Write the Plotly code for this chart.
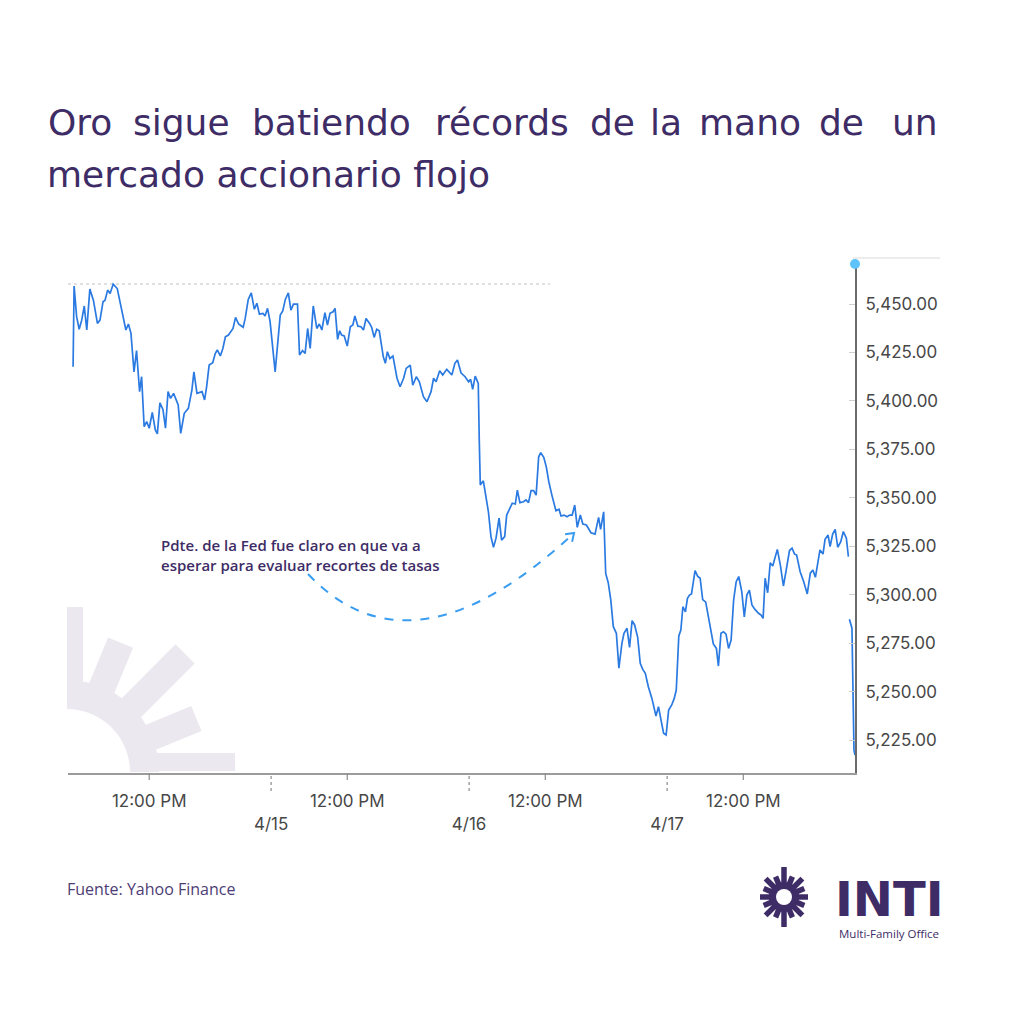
import math
import plotly.graph_objects as go

# ---------------- DATA ----------------
# x = trading minutes since the 4/14 open (9:30), 390 trading minutes per day
minutes = [
    0, 2, 7, 12, 17, 22, 27, 33, 40, 48,
    53, 59, 63, 68, 73, 79, 87, 93, 99, 104,
    109, 114, 120, 125, 131, 135, 140, 145, 150, 156,
    162, 166, 171, 177, 182, 187, 192, 198, 207, 212,
    219, 227, 234, 238, 244, 254, 259, 263, 268, 275,
    280, 284, 290, 295, 300, 306, 315, 320, 326, 335,
    339, 345, 351, 357, 362, 367, 374, 378, 383, 388,
    398, 408, 413, 418, 424, 429, 434, 442, 446, 452,
    457, 462, 467, 473, 480, 485, 490, 496, 501, 506,
    512, 516, 521, 525, 529, 534, 540, 546, 551, 555,
    561, 567, 572, 577, 584, 588, 593, 598, 603, 611,
    615, 619, 624, 630, 638, 644, 651, 656, 664, 669,
    676, 682, 690, 697, 705, 710, 715, 722, 728, 736,
    746, 752, 757, 764, 772, 779, 783, 787, 792, 798,
    800, 802, 808, 813, 818, 823, 828, 833, 839, 844,
    850, 854, 859, 865, 871, 875, 880, 887, 892, 897,
    902, 907, 912, 917, 921, 927, 932, 937, 943, 947,
    951, 957, 961, 967, 973, 978, 983, 988, 993, 999,
    1004, 1011, 1015, 1020, 1028, 1035, 1039, 1045, 1049, 1054,
    1059, 1064, 1070, 1075, 1081, 1085, 1091, 1096, 1101, 1106,
    1112, 1117, 1122, 1127, 1133, 1140, 1148, 1153, 1158, 1163,
    1168, 1173, 1179, 1184, 1188, 1193, 1197, 1201, 1206, 1210,
    1214, 1218, 1225, 1230, 1235, 1240, 1246, 1251, 1256, 1261,
    1267, 1271, 1276, 1281, 1286, 1291, 1296, 1301, 1306, 1311,
    1317, 1322, 1327, 1332, 1337, 1343, 1350, 1355, 1359, 1363,
    1368, 1373, 1378, 1383, 1387, 1393, 1399, 1404, 1411, 1416,
    1421, 1425, 1432, 1439, 1446, 1452, 1457, 1462, 1466, 1471,
    1477, 1481, 1487, 1491, 1496, 1501, 1506, 1512, 1517, 1523,
    1527, 1528, 1529, 1534, 1538, 1540,
]

prices = [
    5417.6, 5459.3, 5443.5, 5437.0, 5441.7, 5449.0, 5436.6, 5457.7, 5452.0, 5440.0,
    5441.7, 5451.2, 5452.0, 5457.2, 5455.5, 5460.3, 5458.0, 5450.3, 5443.5, 5436.6,
    5439.7, 5434.9, 5415.0, 5426.0, 5404.8, 5412.5, 5386.7, 5389.3, 5385.9, 5394.1,
    5385.0, 5383.0, 5399.0, 5395.6, 5385.9, 5404.8, 5401.3, 5403.9, 5397.9, 5383.3,
    5393.6, 5396.2, 5405.6, 5415.0, 5403.9, 5404.8, 5400.5, 5407.3, 5418.5, 5419.7,
    5424.5, 5426.3, 5423.2, 5427.1, 5433.1, 5434.0, 5437.4, 5443.1, 5439.7, 5438.0,
    5442.6, 5452.4, 5455.8, 5447.3, 5450.4, 5444.8, 5445.2, 5443.8, 5447.8, 5440.9,
    5415.0, 5444.3, 5446.5, 5452.4, 5455.8, 5446.9, 5450.0, 5450.0, 5423.7, 5426.0,
    5424.5, 5437.4, 5427.1, 5449.0, 5437.4, 5439.7, 5436.6, 5445.5, 5439.2, 5445.2,
    5446.0, 5447.8, 5431.8, 5436.2, 5434.0, 5433.5, 5428.3, 5438.3, 5439.2, 5443.8,
    5438.6, 5438.3, 5436.6, 5442.6, 5440.0, 5438.0, 5432.8, 5437.0, 5436.2, 5422.8,
    5419.4, 5425.4, 5421.9, 5423.2, 5411.7, 5407.3, 5411.7, 5416.8, 5418.5, 5408.2,
    5412.5, 5409.9, 5402.2, 5399.6, 5404.8, 5411.7, 5409.9, 5415.6, 5413.4, 5416.3,
    5413.4, 5419.4, 5421.1, 5414.5, 5412.5, 5409.9, 5411.1, 5406.0, 5412.8, 5409.0,
    5379.8, 5356.6, 5358.8, 5351.4, 5342.8, 5330.0, 5324.5, 5329.2, 5339.5, 5328.2,
    5330.0, 5341.1, 5344.1, 5347.2, 5346.8, 5354.0, 5347.5, 5348.0, 5348.9, 5347.5,
    5353.7, 5353.7, 5351.4, 5371.2, 5373.3, 5370.9, 5366.0, 5358.3, 5351.4, 5347.2,
    5343.3, 5344.1, 5340.6, 5341.1, 5340.2, 5341.1, 5341.1, 5346.3, 5334.8, 5341.1,
    5336.5, 5336.0, 5334.2, 5332.0, 5331.3, 5339.9, 5333.7, 5342.8, 5311.0, 5306.2,
    5297.3, 5283.5, 5280.1, 5262.1, 5275.0, 5280.1, 5282.7, 5272.8, 5286.6, 5284.4,
    5278.0, 5264.6, 5261.5, 5259.4, 5252.5, 5246.5, 5237.4, 5242.2, 5235.3, 5228.5,
    5227.6, 5240.5, 5243.1, 5246.5, 5250.8, 5278.7, 5281.8, 5293.8, 5291.2, 5298.1,
    5299.8, 5300.4, 5312.4, 5309.6, 5308.5, 5297.5, 5296.2, 5288.5, 5281.8, 5274.6,
    5272.3, 5263.2, 5280.1, 5280.9, 5279.7, 5272.3, 5276.6, 5297.3, 5306.7, 5309.4,
    5301.6, 5288.5, 5299.8, 5302.4, 5294.7, 5292.4, 5290.4, 5289.5, 5287.8, 5308.5,
    5301.0, 5316.5, 5314.8, 5320.5, 5323.4, 5315.3, 5304.5, 5311.9, 5322.8, 5324.0,
    5321.0, 5320.5, 5311.9, 5306.7, 5300.4, 5311.1, 5312.8, 5309.0, 5316.2, 5323.1,
    5321.0, 5328.6, 5330.8, 5324.8, 5331.3, 5333.7, 5324.5, 5327.4, 5332.6, 5329.2,
    5319.7, None, 5287.3, 5282.7, 5219.8, 5217.3,
]

tick_minutes = [150, 390, 540, 780, 930, 1170, 1320]
tick_labels = ["12:00 PM", "4/15", "12:00 PM", "4/16", "12:00 PM", "4/17", "12:00 PM"]
y_tick_values = [5225, 5250, 5275, 5300, 5325, 5350, 5375, 5400, 5425, 5450]
ref_level = 5460.3

title_line1 = ["Oro", "sigue", "batiendo", "récords", "de", "la", "mano", "de", "un"]
title_line2 = "mercado accionario flojo"
note_text = "Pdte. de la Fed fue claro en que va a<br>esperar para evaluar recortes de tasas"
source_text = "Fuente: Yahoo Finance"

# ---------------- LAYOUT HELPERS ----------------
W = H = 1024
OFF = 8  # page body margin
L, R, T, B = 68, 855, 262, 773   # plot area in screen pixels
PURPLE = "#3e2c66"
LAV = "#ebe8f0"


def px(x):
    return (x - L) / (R - L)


def py(y):
    return (B - y) / (B - T)


def P(x, y):
    return f"{px(x):.5f},{py(y):.5f}"


def poly(points):
    return "M " + " L ".join(P(x, y) for x, y in points) + " Z"


n = min(len(minutes), len(prices))
fig = go.Figure()
fig.add_trace(go.Scatter(
    x=minutes[:n], y=prices[:n], mode="lines",
    line=dict(color="#2a7ae2", width=1.7),
    connectgaps=False, hoverinfo="skip", showlegend=False,
))

shapes = []

# faint dotted reference line near the top
shapes.append(dict(type="line", xref="x", yref="y", x0=-10, x1=940, y0=ref_level, y1=ref_level,
                   line=dict(color="#d6d6d6", width=1.5, dash="dot"), layer="below"))

# x tick marks: solid for 12:00 PM, dotted for dates
for m, lab in zip(tick_minutes, tick_labels):
    if "/" in lab:
        shapes.append(dict(type="line", xref="x", yref="paper", x0=m, x1=m, y0=py(776), y1=py(792),
                           line=dict(color="#8c8c8c", width=1.2, dash="dot")))
    else:
        shapes.append(dict(type="line", xref="x", yref="paper", x0=m, x1=m, y0=py(773), y1=py(780),
                           line=dict(color="#8c8c8c", width=1.2)))

# top faint line on the right and the blue handle dot
shapes.append(dict(type="line", xref="paper", yref="paper", x0=px(853), x1=px(940), y0=py(258), y1=py(258),
                   line=dict(color="#ececec", width=2)))
shapes.append(dict(type="circle", xref="paper", yref="paper", x0=px(850), x1=px(860), y0=py(269), y1=py(259),
                   fillcolor="#5ec2fb", line=dict(width=0)))

# watermark sun (quarter) in lower-left
cx, cy = 67, 772
ring = []
for a in range(0, 91, 5):
    t = math.radians(a)
    ring.append((cx + 92 * math.cos(t), cy - 92 * math.sin(t)))
for a in range(90, -1, -5):
    t = math.radians(a)
    ring.append((cx + 63 * math.cos(t), cy - 63 * math.sin(t)))
shapes.append(dict(type="path", xref="paper", yref="paper", path=poly(ring),
                   fillcolor=LAV, line=dict(width=0), layer="below"))
rays = [(0, -19, -1, 168), (22.5, -13.5, 13.5, 140), (45, -13.5, 13.5, 167),
        (67.5, -13.5, 13.5, 140), (90, 0, 16, 165)]
for ang, lo, hi, r1 in rays:
    t = math.radians(ang)
    d = (math.cos(t), -math.sin(t))
    nn = (math.sin(t), math.cos(t))
    r0 = 80
    pts = [(cx + r0 * d[0] + lo * nn[0], cy + r0 * d[1] + lo * nn[1]),
           (cx + r1 * d[0] + lo * nn[0], cy + r1 * d[1] + lo * nn[1]),
           (cx + r1 * d[0] + hi * nn[0], cy + r1 * d[1] + hi * nn[1]),
           (cx + r0 * d[0] + hi * nn[0], cy + r0 * d[1] + hi * nn[1])]
    shapes.append(dict(type="path", xref="paper", yref="paper", path=poly(pts),
                       fillcolor=LAV, line=dict(width=0), layer="below"))

# dashed curved arrow
p0, c1, p2 = (308, 574), (412, 684), (574, 533)
shapes.append(dict(type="path", xref="paper", yref="paper",
                   path=f"M {P(*p0)} Q {P(*c1)} {P(*p2)}",
                   line=dict(color="#3a9df0", width=2, dash="dash")))
ux, uy = p2[0] - c1[0], p2[1] - c1[1]
ln = math.hypot(ux, uy)
bx, by = -ux / ln, -uy / ln
arms = []
for s in (-1, 1):
    a = math.radians(35 * s)
    arms.append((p2[0] + 9 * (bx * math.cos(a) - by * math.sin(a)),
                 p2[1] + 9 * (bx * math.sin(a) + by * math.cos(a))))
shapes.append(dict(type="path", xref="paper", yref="paper",
                   path=f"M {P(*arms[0])} L {P(*p2)} L {P(*arms[1])}",
                   line=dict(color="#3a9df0", width=2)))

# INTI logo sun (bottom right)
sx, sy = 784, 897
for i in range(16):
    ang = i * 22.5
    t = math.radians(ang)
    if ang in (90, 270):
        r1 = 30
    elif ang in (0, 180):
        r1 = 24
    elif i % 2 == 0:
        r1 = 26
    else:
        r1 = 22
    r0 = 12
    shapes.append(dict(type="line", xref="paper", yref="paper",
                       x0=px(sx + r0 * math.cos(t)), y0=py(sy - r0 * math.sin(t)),
                       x1=px(sx + r1 * math.cos(t)), y1=py(sy - r1 * math.sin(t)),
                       line=dict(color=PURPLE, width=5.5)))
shapes.append(dict(type="circle", xref="paper", yref="paper", x0=px(sx - 15), x1=px(sx + 15),
                   y0=py(sy + 15), y1=py(sy - 15), fillcolor=PURPLE, line=dict(width=0)))
shapes.append(dict(type="circle", xref="paper", yref="paper", x0=px(sx - 8), x1=px(sx + 8),
                   y0=py(sy + 8), y1=py(sy - 8), fillcolor="white", line=dict(width=0)))

annotations = []
word_centers = [80, 181, 331, 502, 612, 666, 750, 841, 915]
for wtxt, wc in zip(title_line1, word_centers):
    annotations.append(dict(text=wtxt, x=px(wc), y=py(122), xref="paper", yref="paper",
                            xanchor="center", yanchor="middle", showarrow=False,
                            font=dict(family="DejaVu Sans", size=36, color=PURPLE)))
annotations.append(dict(text=title_line2, x=px(45), y=py(175), xref="paper", yref="paper",
                        xanchor="left", yanchor="middle", showarrow=False,
                        font=dict(family="DejaVu Sans", size=36, color=PURPLE)))
annotations.append(dict(text=note_text, x=px(159), y=py(555), xref="paper", yref="paper",
                        xanchor="left", yanchor="middle", align="left", showarrow=False,
                        font=dict(family="Open Sans", size=15, color=PURPLE, weight=600)))
annotations.append(dict(text=source_text, x=px(65), y=py(889), xref="paper", yref="paper",
                        xanchor="left", yanchor="middle", showarrow=False,
                        font=dict(family="Open Sans", size=16, color="#4d3d74")))
annotations.append(dict(text="<b>INTI</b>", x=px(889), y=py(899), xref="paper", yref="paper",
                        xanchor="center", yanchor="middle", showarrow=False,
                        font=dict(family="DejaVu Sans", size=48, color=PURPLE)))
annotations.append(dict(text="Multi-Family Office", x=px(889), y=py(933), xref="paper", yref="paper",
                        xanchor="center", yanchor="middle", showarrow=False,
                        font=dict(family="Open Sans", size=11.5, color=PURPLE)))

fig.update_layout(
    width=W, height=H, autosize=False,
    margin=dict(l=L - OFF, r=W - (R - OFF), t=T - OFF, b=H - (B - OFF), pad=0),
    paper_bgcolor="white", plot_bgcolor="rgba(0,0,0,0)",
    showlegend=False,
    shapes=shapes, annotations=annotations,
    xaxis=dict(range=[-10, 1540], showgrid=False, zeroline=False,
               showline=True, linecolor="#9b9b9b", linewidth=2,
               ticks="", tickmode="array", tickvals=tick_minutes,
               ticktext=[("<br>" + t) if "/" in t else t for t in tick_labels],
               tickfont=dict(family="Inter", size=17, color="#474747"),
               ticklabelstandoff=12, fixedrange=True),
    yaxis=dict(range=[5208, 5471.7], side="right", showgrid=False, zeroline=False,
               showline=True, linecolor="#6b6b6b", linewidth=2,
               ticks="inside", ticklen=6, tickcolor="#cfcfcf", tickwidth=1,
               tickmode="array", tickvals=y_tick_values, tickformat=",.2f",
               tickfont=dict(family="Inter", size=17, color="#474747"),
               ticklabelstandoff=5, fixedrange=True),
)

fig.write_html("out.html")
